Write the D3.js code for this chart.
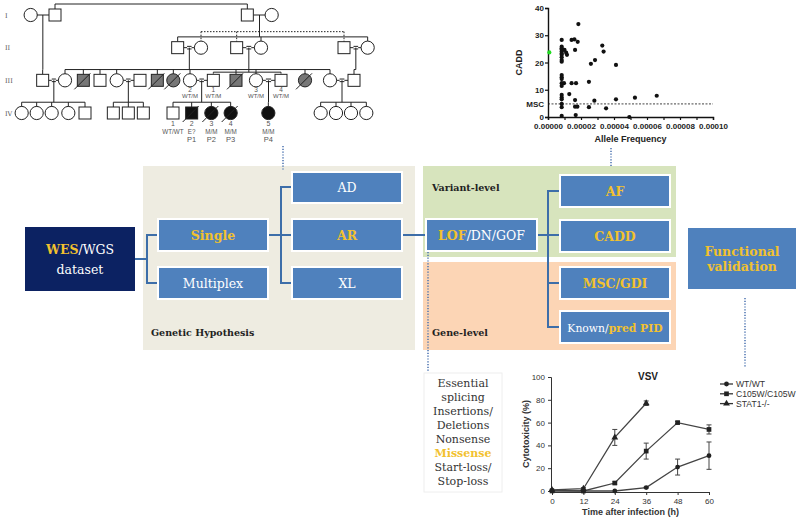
<!DOCTYPE html>
<html><head><meta charset="utf-8">
<script src="https://cdn.jsdelivr.net/npm/d3@7"></script>
<style>body{margin:0;background:#fff}svg{display:block}</style>
</head><body>
<svg id="c" width="800" height="519"></svg>
<script>
// ---------------- DATA ----------------
// Scatter: allele frequency vs CADD
const scatterAF = [
  8.3e-6,8.3e-6,8.3e-6,8.3e-6,8.3e-6,8.3e-6,8.3e-6,8.3e-6,8.3e-6,8.3e-6,8.3e-6,8.3e-6,8.3e-6,8.3e-6,8.3e-6,8.3e-6,8.3e-6,8.3e-6,8.3e-6,8.3e-6,8.3e-6,
  1.0e-5,1.1e-5,1.15e-5,9.7e-6,1.29e-5,1.43e-5,1.6e-5,1.8e-5,1.84e-5,1.64e-5,1.43e-5,1.7e-5,1.64e-5,1.64e-5,1.78e-5,1.68e-5,
  2.48e-5,2.48e-5,2.6e-5,2.85e-5,2.81e-5,3.29e-5,3.37e-5,3.52e-5,4.12e-5,4.12e-5,4.93e-5,5.27e-5,6.59e-5];
const scatterCADD = [
  28.3,25.8,24.8,24.0,22.8,21.9,20.9,20.3,15.4,14.6,13.9,12.4,11.4,8.1,7.2,6.5,4.8,3.6,0.4,23.3,25.2,
  24.6,23.6,22.8,12.4,8.4,28.3,28.5,27.6,34.1,24.6,12.4,12.4,6.2,3.8,3.8,0.7,
  12.9,3.6,19.5,20.9,6.0,26.2,24.0,3.2,19.1,6.5,0.0,7.1,7.8];
const highlightAF = [8e-7];
const highlightCADD = [23.7];
const mscThreshold = 4.8;
const scatterYTicks = [0,10,20,30,40];
const scatterXTicks = [0,0.00001,0.00002,0.00003,0.00004,0.00005,0.00006,0.00007,0.00008,0.00009,0.0001];

// Cytotoxicity line chart
const timePoints = [0,12,24,36,48,60];
const wtMean   = [0.5,0,0,3,21,31];
const wtErr    = [0,0,0,0.5,7,12];
const c105Mean = [0,0,7,35,60,54];
const c105Err  = [0,0,1,7,1,4];
const stat1Time = [0,12,24,36];
const stat1Mean = [1,2,47,77];
const stat1Err  = [0,1,7,2];
const seriesNames = ["WT/WT","C105W/C105W","STAT1-/-"];
const lineXTicks = [0,12,24,36,48,60];
const lineYTicks = [0,20,40,60,80,100];

// Pedigree
const genLabels = ["I","II","III","IV"];
const people = [
  // gen I
  {id:"I1",g:1,p:9.2,s:"f"},{id:"I2",g:1,p:16.5,s:"m"},{id:"I3",g:1,p:74.2,s:"m"},{id:"I4",g:1,p:81.5,s:"f"},
  // gen II
  {id:"II1",g:2,p:53.3,s:"m"},{id:"II2",g:2,p:60.3,s:"f"},{id:"II3",g:2,p:71,s:"m"},{id:"II4",g:2,p:78.3,s:"f"},
  {id:"II5",g:2,p:103.2,s:"m"},{id:"II6",g:2,p:110.3,s:"f"},
  // gen III
  {id:"III1",g:3,p:12.8,s:"m"},{id:"III2",g:3,p:19.5,s:"f"},{id:"III3",g:3,p:25,s:"m",a:"grey",d:1},
  {id:"III4",g:3,p:30,s:"m"},{id:"III5",g:3,p:35,s:"f"},{id:"III6",g:3,p:42,s:"m"},
  {id:"III7",g:3,p:47.2,s:"m",a:"grey",d:1},{id:"III8",g:3,p:52,s:"f",a:"grey",d:1},
  {id:"III9",g:3,p:57,s:"f",lab:["2","WT/M"]},{id:"III10",g:3,p:64,s:"m",lab:["1","WT/M"]},
  {id:"III11",g:3,p:70.8,s:"m",a:"grey",d:1},{id:"III12",g:3,p:76.8,s:"f",lab:["3","WT/M"]},
  {id:"III13",g:3,p:84.3,s:"m",lab:["4","WT/M"]},{id:"III14",g:3,p:91.5,s:"f",a:"grey",d:1},
  {id:"III15",g:3,p:99,s:"f"},{id:"III16",g:3,p:106.2,s:"m"},
  // gen IV
  {id:"IV1",g:4,p:6.5,s:"f"},{id:"IV2",g:4,p:11,s:"f"},{id:"IV3",g:4,p:15.5,s:"f"},{id:"IV4",g:4,p:20.5,s:"f"},{id:"IV5",g:4,p:25.5,s:"m"},
  {id:"IV6",g:4,p:34,s:"m"},{id:"IV7",g:4,p:38.5,s:"m"},{id:"IV8",g:4,p:43,s:"m"},
  {id:"IV9",g:4,p:51.9,s:"m",lab:["1","WT/WT"]},
  {id:"IV10",g:4,p:57.5,s:"m",a:"black",d:1,lab:["2","E?","P1"]},
  {id:"IV11",g:4,p:63.4,s:"f",a:"black",d:1,lab:["3","M/M","P2"]},
  {id:"IV12",g:4,p:69.2,s:"f",a:"black",d:1,lab:["4","M/M","P3"]},
  {id:"IV13",g:4,p:80.5,s:"f",a:"black",lab:["5","M/M","P4"]},
  {id:"IV14",g:4,p:96.2,s:"f"},{id:"IV15",g:4,p:100.8,s:"f"},{id:"IV16",g:4,p:105.3,s:"f"},{id:"IV17",g:4,p:109.9,s:"f"}
];
const couples = [["I1","I2",0],["I3","I4",0],["II1","II2",1],["II3","II4",1],["II5","II6",1],
  ["III1","III2",1],["III5","III6",1],["III9","III10",1],["III12","III13",1],["III15","III16",1]];
const sibships = [
  {par:["I1","I2"],kids:["III1"]},
  {par:["I3","I4"],kids:["II1","II4","II6"]},
  {par:["II1","II2"],kids:["III2","III3","III4","III5","III7","III8","III9","III11","III12","III14","III15"]},
  {par:["II3","II4"],kids:["III10","III13"],dashKids:1,lineGen:2.75},
  {par:["II5","II6"],kids:["III16"]},
  {par:["III1","III2"],kids:["IV1","IV2","IV3","IV4","IV5"]},
  {par:["III5","III6"],kids:["IV6","IV7","IV8"]},
  {par:["III9","III10"],kids:["IV9","IV10","IV11","IV12"]},
  {par:["III12","III13"],kids:["IV13"]},
  {par:["III15","III16"],kids:["IV14","IV15","IV16","IV17"]}
];
const siblingGroups = [{ids:["I2","I3"],above:11,dash:0},{ids:["II2","II3","II5"],above:16,dash:1}];

// Flowchart text
const textBoxLines = ["Essential","splicing","Insertions/","Deletions","Nonsense","Missense","Start-loss/","Stop-loss"];
const highlightedLine = "Missense";

// ---------------- DRAW ----------------
const svg = d3.select("#c");
const YEL = "#f2c12e", BLUE = "#4f81bd", LINE = "#3d6ea9", NAVY = "#0c2262";
const SERIF = "'DejaVu Serif', serif", SANS = "Arial, 'Liberation Sans', sans-serif";

// ---- Pedigree ----
const ped = svg.append("g");
const xP = d3.scaleLinear().domain([0,120]).range([0,400]);
const yP = d3.scaleLinear().domain([1,4]).range([15,113]);
const byId = {}; people.forEach(d=>byId[d.id]=d);
const S = 6;
const pl = ped.append("g").attr("stroke","#222").attr("stroke-width",1).attr("fill","none");
function seg(g,x1,y1,x2,y2,dash){g.append("line").attr("x1",x1).attr("y1",y1).attr("x2",x2).attr("y2",y2).attr("stroke-dasharray",dash?"1.5,1.5":null);}
couples.forEach(([a,b,c])=>{
  const A=byId[a],B=byId[b],y=yP(A.g);
  const x1=xP(A.p)+S, x2=xP(B.p)-S;
  if(c){seg(pl,x1,y,x1+(x2-x1)*0.3,y);seg(pl,x1+(x2-x1)*0.7,y,x2,y);
        seg(pl,x1+(x2-x1)*0.3,y-1.3,x1+(x2-x1)*0.7,y-1.3);seg(pl,x1+(x2-x1)*0.3,y+1.3,x1+(x2-x1)*0.7,y+1.3);}
  else seg(pl,x1,y,x2,y);
});
sibships.forEach(sb=>{
  const A=byId[sb.par[0]],B=byId[sb.par[1]];
  const mx=(xP(A.p)+xP(B.p))/2, py=yP(A.g);
  const kg=byId[sb.kids[0]].g;
  const ly = yP(sb.lineGen || (kg-0.33));
  const kx = sb.kids.map(k=>xP(byId[k].p));
  seg(pl,mx,py,mx,ly);
  const lo=Math.min(mx,...kx), hi=Math.max(mx,...kx);
  if(hi-lo>0.5) seg(pl,lo,ly,hi,ly);
  kx.forEach(x=>seg(pl,x,ly,x,yP(kg)-S,sb.dashKids));
});
siblingGroups.forEach(sg=>{
  const g=byId[sg.ids[0]].g, ly=yP(g)-sg.above;
  const xs=sg.ids.map(i=>xP(byId[i].p));
  seg(pl,d3.min(xs),ly,d3.max(xs),ly,sg.dash);
  xs.forEach(x=>seg(pl,x,ly,x,yP(g)-S,sg.dash));
});
const sym = ped.selectAll("g.p").data(people).join("g").attr("transform",d=>`translate(${xP(d.p)},${yP(d.g)})`);
sym.each(function(d){
  const g=d3.select(this);
  const fill = d.a==="grey"?"#777":d.a==="black"?"#111":"#fff";
  if(d.s==="m") g.append("rect").attr("x",-S).attr("y",-S).attr("width",2*S).attr("height",2*S);
  else g.append("circle").attr("r",S+0.6);
  g.selectAll("rect,circle").attr("fill",fill).attr("stroke","#222").attr("stroke-width",1);
  if(d.d) g.append("line").attr("x1",-9).attr("y1",9).attr("x2",7).attr("y2",-7).attr("stroke","#222").attr("stroke-width",1);
  if(d.lab){
    const t=g.append("g").attr("font-family",SANS).attr("fill","#555").attr("text-anchor","middle");
    if(d.g===3){t.append("text").attr("y",11.5).attr("font-size",6.5).text(d.lab[0]);
                t.append("text").attr("y",18).attr("font-size",6).text(d.lab[1]);}
    else{t.append("text").attr("y",13).attr("font-size",7).text(d.lab[0]);
         t.append("text").attr("y",20.5).attr("font-size",6.3).text(d.lab[1]);
         if(d.lab[2]) t.append("text").attr("y",29.2).attr("font-size",7.5).text(d.lab[2]);}
  }
});
ped.selectAll("text.gl").data(genLabels).join("text").attr("class","gl")
  .attr("x",5).attr("y",(d,i)=>yP(i+1)+2.5).attr("font-family",SERIF).attr("font-size",6.5).attr("fill","#555").text(d=>d);

// ---- Scatter ----
const sc = svg.append("g");
const xS = d3.scaleLinear().domain([0,0.0001]).range([548,713]);
const yS = d3.scaleLinear().domain([0,40]).range([117,8]);
sc.append("line").attr("x1",xS(0)).attr("x2",xS(0.0001)).attr("y1",yS(mscThreshold)).attr("y2",yS(mscThreshold))
  .attr("stroke","#444").attr("stroke-width",1).attr("stroke-dasharray","2,1.5");
const ax1 = sc.append("g").attr("transform",`translate(0,${yS(0)})`)
  .call(d3.axisBottom(xS).tickValues(scatterXTicks).tickSize(3)
  .tickFormat((d,i)=>i%2===0?d3.format(".5f")(d):""));
const ay1 = sc.append("g").attr("transform",`translate(${xS(0)},0)`)
  .call(d3.axisLeft(yS).tickValues(scatterYTicks).tickSize(3));
[ax1,ay1].forEach(a=>{a.select(".domain").attr("stroke","#111").attr("stroke-width",1.4);
  a.selectAll(".tick line").attr("stroke","#111").attr("stroke-width",1.2);
  a.selectAll("text").attr("font-family",SANS).attr("font-weight","bold").attr("font-size",8).attr("fill","#222");});
ay1.selectAll("text").attr("x",-4);
sc.append("text").attr("x",xS(0)-4).attr("y",yS(mscThreshold)+3).attr("text-anchor","end")
  .attr("font-family",SANS).attr("font-weight","bold").attr("font-size",8).attr("fill","#222").text("MSC");
sc.append("text").attr("transform",`translate(522,${yS(20)}) rotate(-90)`).attr("text-anchor","middle")
  .attr("font-family",SANS).attr("font-weight","bold").attr("font-size",9).attr("fill","#222").text("CADD");
sc.append("text").attr("x",xS(0.00005)).attr("y",142).attr("text-anchor","middle")
  .attr("font-family",SANS).attr("font-weight","bold").attr("font-size",9).attr("fill","#222").text("Allele Frequency");
sc.selectAll("circle.pt").data(scatterAF.map((a,i)=>[a,scatterCADD[i]])).join("circle")
  .attr("cx",d=>xS(d[0])).attr("cy",d=>yS(d[1])).attr("r",2.1).attr("fill","#111");
sc.selectAll("circle.hl").data(highlightAF.map((a,i)=>[a,highlightCADD[i]])).join("circle")
  .attr("cx",d=>xS(d[0])).attr("cy",d=>yS(d[1])).attr("r",2.1).attr("fill","#22dd22");

// ---- Flowchart ----
const fc = svg.append("g");
function rect(x,y,w,h,fill,stroke){return fc.append("rect").attr("x",x).attr("y",y).attr("width",w).attr("height",h).attr("fill",fill).attr("stroke",stroke||"none").attr("stroke-width",stroke?2:0);}
rect(143,166,272,184,"#eeece1");
rect(423,166,253,91,"#d7e4bd");
rect(423,262,253,88,"#fcd5b5");
// connectors
const cl = fc.append("g").attr("stroke",LINE).attr("stroke-width",2).attr("fill","none");
function path(pts){cl.append("path").attr("d",d3.line()(pts));}
path([[135,259],[147,259]]); path([[158,235],[147,235],[147,283],[158,283]]);
path([[268,235],[292,235]]); path([[292,187],[281,187],[281,283],[292,283]]);
path([[402,235],[426,235]]);
path([[537,235],[560,235]]); path([[560,191],[548,191],[548,327],[560,327]]); path([[548,283],[560,283]]);
// dotted links
const dl = fc.append("g").attr("stroke","#4a72b0").attr("stroke-width",1.5).attr("stroke-dasharray","1.2,1.6");
[[283,146,283,171],[611,148,611,166],[428,252,428,372],[745,298,745,368]].forEach(a=>
  dl.append("line").attr("x1",a[0]).attr("y1",a[1]).attr("x2",a[2]).attr("y2",a[3]));
// boxes
const boxes = [
  {x:25,y:227,w:110,h:64,fill:NAVY,lines:[[["WES",1],["/WGS",0]],[["dataset",0]]],bold:0},
  {x:158,y:219,w:110,h:32,lines:[[["Single",1]]],bold:1},
  {x:158,y:267,w:110,h:32,lines:[[["Multiplex",0]]],bold:0},
  {x:292,y:172,w:110,h:31,lines:[[["AD",0]]],bold:0},
  {x:292,y:219,w:110,h:32,lines:[[["AR",1]]],bold:1},
  {x:292,y:267,w:110,h:32,lines:[[["XL",0]]],bold:0},
  {x:426,y:219,w:111,h:32,lines:[[["LOF",1],["/DN/GOF",0]]],bold:0},
  {x:560,y:175,w:110,h:32,lines:[[["AF",1]]],bold:1},
  {x:560,y:220,w:110,h:32,lines:[[["CADD",1]]],bold:1},
  {x:560,y:267,w:110,h:32,lines:[[["MSC/GDI",1]]],bold:1},
  {x:560,y:311,w:110,h:32,lines:[[["Known/",0],["pred PID",1]]],bold:0,fs:10.8},
  {x:687,y:227,w:110,h:63,lines:[[["Functional",1]],[["validation",1]]],bold:1}
];
boxes.forEach(b=>{
  rect(b.x,b.y,b.w,b.h,b.fill||BLUE,b.fill?null:"#fff");
  const n=b.lines.length, lh=16;
  b.lines.forEach((ln,i)=>{
    const t=fc.append("text").attr("x",b.x+b.w/2).attr("y",b.y+b.h/2+(i-(n-1)/2)*(n>1?(b.fill?20:15):lh)+4.5)
      .attr("text-anchor","middle").attr("font-family",SERIF).attr("font-size",b.fs||12.5);
    ln.forEach(([s,y])=>t.append("tspan").text(s).attr("fill",y?YEL:"#fff").attr("font-weight",(b.bold||y)?"bold":"normal"));
  });
});
[["Genetic Hypothesis",151,336],["Variant-level",432,191],["Gene-level",432,336]].forEach(a=>
  fc.append("text").attr("x",a[1]).attr("y",a[2]).attr("font-family",SERIF).attr("font-weight","bold")
    .attr("font-size",9.5).attr("fill","#222").text(a[0]));
// text box
rect(424,373,78,119,"#fff").attr("stroke","#eee").attr("stroke-width",1);
fc.selectAll("text.tb").data(textBoxLines).join("text").attr("class","tb")
  .attr("x",463).attr("y",(d,i)=>387+i*14).attr("text-anchor","middle").attr("font-family",SERIF).attr("font-size",11)
  .attr("fill",d=>d===highlightedLine?YEL:"#333").attr("font-weight",d=>d===highlightedLine?"bold":"normal").text(d=>d);

// ---- Line chart ----
const lc = svg.append("g");
const xL = d3.scaleLinear().domain([0,60]).range([552,709]);
const yL = d3.scaleLinear().domain([0,100]).range([491,377]);
const axL = lc.append("g").attr("transform",`translate(0,${yL(0)+1})`).call(d3.axisBottom(xL).tickValues(lineXTicks).tickSize(3));
const ayL = lc.append("g").attr("transform",`translate(${xL(0)-1},0)`).call(d3.axisLeft(yL).tickValues(lineYTicks).tickSize(3));
[axL,ayL].forEach(a=>{a.select(".domain").attr("stroke","#333").attr("stroke-width",1);
  a.selectAll(".tick line").attr("stroke","#333");
  a.selectAll("text").attr("font-family",SANS).attr("font-size",8).attr("fill","#333");});
lc.append("text").attr("x",648).attr("y",380).attr("text-anchor","middle").attr("font-family",SANS)
  .attr("font-weight","bold").attr("font-size",10).attr("fill","#222").text("VSV");
lc.append("text").attr("x",xL(30)).attr("y",515).attr("text-anchor","middle").attr("font-family",SANS)
  .attr("font-weight","bold").attr("font-size",9).attr("fill","#333").text("Time after infection (h)");
lc.append("text").attr("transform",`translate(529,${yL(50)}) rotate(-90)`).attr("text-anchor","middle").attr("font-family",SANS)
  .attr("font-weight","bold").attr("font-size",9).attr("fill","#333").text("Cytotoxicity (%)");
const series = [
  {t:timePoints,m:wtMean,e:wtErr,sym:d3.symbolCircle,size:18},
  {t:timePoints,m:c105Mean,e:c105Err,sym:d3.symbolSquare,size:22},
  {t:stat1Time,m:stat1Mean,e:stat1Err,sym:d3.symbolTriangle,size:20}
];
series.forEach(s=>{
  const pts=s.t.map((t,i)=>({t,m:s.m[i],e:s.e[i]}));
  lc.append("path").attr("d",d3.line().x(d=>xL(d.t)).y(d=>yL(d.m))(pts)).attr("fill","none").attr("stroke","#444").attr("stroke-width",1.3);
  const eg=lc.append("g").attr("stroke","#444").attr("stroke-width",1);
  pts.filter(d=>d.e>0).forEach(d=>{
    eg.append("line").attr("x1",xL(d.t)).attr("x2",xL(d.t)).attr("y1",yL(d.m-d.e)).attr("y2",yL(d.m+d.e));
    [d.m-d.e,d.m+d.e].forEach(v=>eg.append("line").attr("x1",xL(d.t)-2.5).attr("x2",xL(d.t)+2.5).attr("y1",yL(v)).attr("y2",yL(v)));
  });
  lc.selectAll(null).data(pts).join("path").attr("transform",d=>`translate(${xL(d.t)},${yL(d.m)})`)
    .attr("d",d3.symbol(s.sym,s.size)).attr("fill","#222");
});
seriesNames.forEach((n,i)=>{
  const y=384+i*9.8;
  lc.append("line").attr("x1",720).attr("x2",733).attr("y1",y).attr("y2",y).attr("stroke","#333").attr("stroke-width",1.3);
  lc.append("path").attr("transform",`translate(726.5,${y})`).attr("d",d3.symbol(series[i].sym,series[i].size)).attr("fill","#222");
  lc.append("text").attr("x",736).attr("y",y+3).attr("font-family",SANS).attr("font-size",8.6).attr("fill","#333").text(n);
});
</script>
</body></html>
